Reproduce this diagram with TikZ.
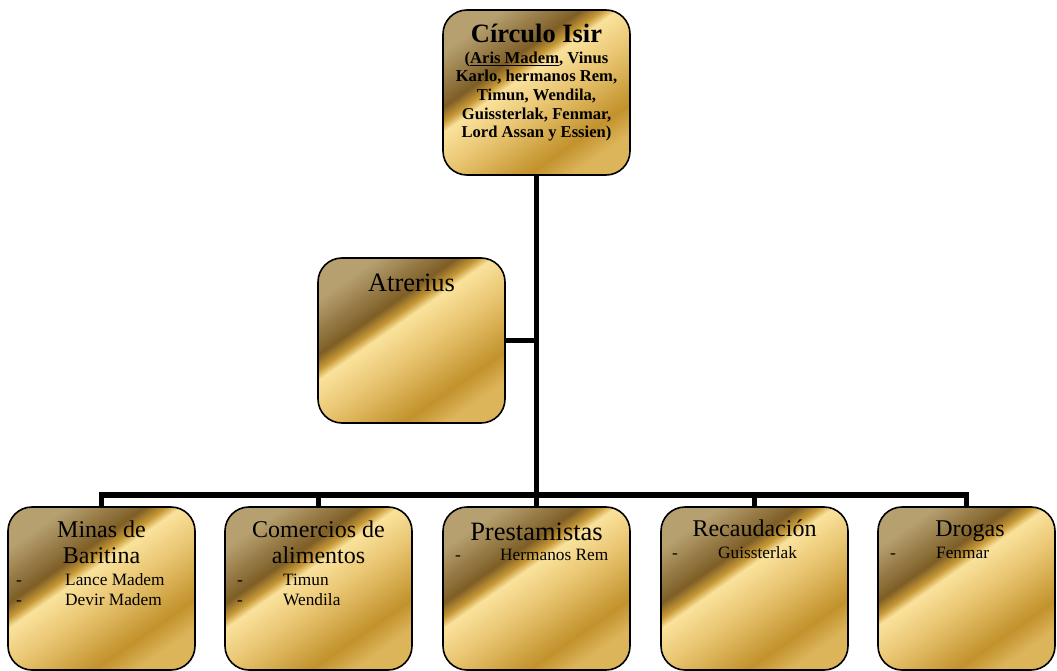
\documentclass[tikz,border=0pt]{standalone}
\usepackage{fontspec}
\setmainfont{Liberation Serif}
\definecolor{GoldPale}{RGB}{182,160,112}
\definecolor{GoldDark}{RGB}{126,94,38}
\definecolor{GoldMid}{RGB}{198,152,54}
\definecolor{GoldLight}{RGB}{250,226,156}
\definecolor{GoldWarm}{RGB}{232,196,112}
\definecolor{GoldDeep}{RGB}{194,146,44}
\definecolor{GoldEdge}{RGB}{220,180,90}
\pgfdeclarehorizontalshading{goldbox}{100bp}{color(0bp)=(GoldPale); color(25bp)=(GoldPale); color(38bp)=(GoldDark); color(41.5bp)=(GoldMid); color(44bp)=(GoldLight); color(54bp)=(GoldWarm); color(68bp)=(GoldDeep); color(75bp)=(GoldEdge); color(100bp)=(GoldEdge)}
\tikzset{
  orgbox/.style={draw=black, line width=1.6pt, rounded corners=24pt, shading=goldbox, shading angle=-55, minimum width=187pt, minimum height=163pt, inner sep=0pt},
  conn/.style={line width=5.5pt},
  headtxt/.style={anchor=base, align=center, inner sep=0pt, font=\fontsize{24}{26}\selectfont},
  itemtxt/.style={anchor=base west, align=left, inner sep=0pt, font=\fontsize{17.3}{19.5}\selectfont}
}

\begin{document}
\begin{tikzpicture}[x=1pt,y=-1pt]
\useasboundingbox (0,0) rectangle (1057,671);
\coordinate (hub) at (536.5,495);

\node[orgbox, minimum height=165pt] (isir) at (536.5,92.5) {};
\node[orgbox, minimum height=165pt] (atrerius) at (411.5,340.5) {};
\node[orgbox] (minas) at (101.5,588.5) {};
\node[orgbox] (comercios) at (318.5,588.5) {};
\node[orgbox] (prestamistas) at (536.5,588.5) {};
\node[orgbox] (recaudacion) at (754.5,588.5) {};
\node[orgbox, minimum width=177pt] (drogas) at (966.5,588.5) {};

\draw[conn] (isir.south) -- (hub);
\draw[conn] (atrerius.east) -- (atrerius.east -| isir.south);
\draw[conn] (minas.north) -- (minas.north |- hub) -- (drogas.north |- hub) -- (drogas.north);
\draw[conn] (comercios.north) -- (comercios.north |- hub);
\draw[conn] (prestamistas.north) -- (hub);
\draw[conn] (recaudacion.north) -- (recaudacion.north |- hub);

\node[anchor=base, inner sep=0pt, font=\bfseries\fontsize{26.5}{28}\selectfont] (isirhead) at (536.5,43) {Círculo Isir};
\node[anchor=base, align=center, inner sep=0pt, font=\bfseries\fontsize{16.6}{18.7}\selectfont] (isirlist) at (536.5,138) {(\underline{Aris Madem}, Vinus\\Karlo, hermanos Rem,\\Timun, Wendila,\\Guissterlak, Fenmar,\\Lord Assan y Essien)};

\node[headtxt, font=\fontsize{26.5}{28}\selectfont] (atrtxt) at (411.5,291) {Atrerius};

\node[headtxt] (minastxt) at (101.5,563) {Minas de\\Baritina};
\node[itemtxt] (minasitems) at (16,605) {\makebox[49pt][l]{-}Lance Madem\\\makebox[49pt][l]{-}Devir Madem};

\node[headtxt] (comerciostxt) at (318.5,563) {Comercios de\\alimentos};
\node[itemtxt] (comerciositems) at (237,605) {\makebox[46pt][l]{-}Timun\\\makebox[46pt][l]{-}Wendila};

\node[headtxt, font=\fontsize{26.5}{28}\selectfont] (prestamistastxt) at (536.5,540) {Prestamistas};
\node[itemtxt] (prestamistasitems) at (455,560) {\makebox[45pt][l]{-}Hermanos Rem};

\node[headtxt] (recaudaciontxt) at (754.5,536) {Recaudación};
\node[itemtxt] (recaudacionitems) at (672,558) {\makebox[46pt][l]{-}Guissterlak};

\node[headtxt] (drogastxt) at (970,536) {Drogas};
\node[itemtxt] (drogasitems) at (890,558) {\makebox[46pt][l]{-}Fenmar};
\end{tikzpicture}
\end{document}
